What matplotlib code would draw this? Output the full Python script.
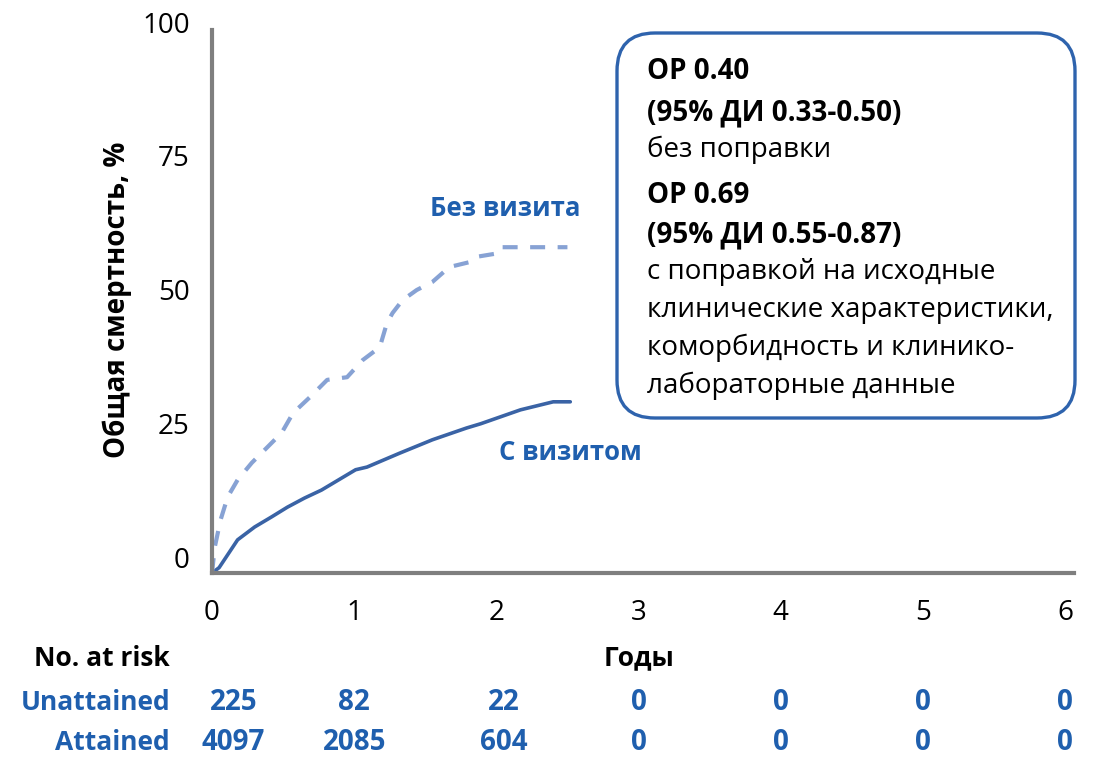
import matplotlib
matplotlib.use("Agg")
import matplotlib.pyplot as plt
from matplotlib.patches import FancyBboxPatch
from matplotlib.transforms import ScaledTranslation, blended_transform_factory

plt.rcParams["font.family"] = ["Open Sans", "DejaVu Sans"]

# Cumulative mortality curves (years, %)
attained_t = [0, 0.05, 0.09, 0.18, 0.30, 0.42, 0.53, 0.65, 0.77, 0.89, 1.01, 1.09,
              1.32, 1.55, 1.79, 1.89, 2.03, 2.17, 2.40, 2.52]
attained_y = [0, 1.0, 2.6, 6.2, 8.6, 10.5, 12.3, 14.0, 15.5, 17.4, 19.3, 19.8,
              22.4, 24.9, 27.1, 27.9, 29.2, 30.5, 32.0, 32.0]

unattained_t = [0, 0.02, 0.06, 0.11, 0.18, 0.28, 0.37, 0.49, 0.57, 0.69, 0.81,
                0.95, 1.06, 1.18, 1.23, 1.27, 1.34, 1.44, 1.55, 1.67, 1.81,
                1.86, 2.02, 2.04, 2.50]
unattained_y = [0, 4.9, 9.9, 14.2, 17.4, 20.6, 23.0, 26.2, 29.9, 32.9, 36.1,
                36.6, 39.8, 42.2, 46.7, 48.6, 51.0, 52.9, 54.4, 57.2, 58.1,
                59.1, 59.8, 60.9, 60.9]

x_ticks = [0, 1, 2, 3, 4, 5, 6]
y_ticks = [0, 25, 50, 75, 100]

# Numbers at risk
risk_rows = ["Unattained", "Attained"]
risk_unattained = [225, 82, 22, 0, 0, 0, 0]
risk_attained = [4097, 2085, 604, 0, 0, 0, 0]

box_lines = [
    ("ОР 0.40", "bold"),
    ("(95% ДИ 0.33-0.50)", "bold"),
    ("без поправки", "normal"),
    ("ОР 0.69", "bold"),
    ("(95% ДИ 0.55-0.87)", "bold"),
    ("с поправкой на исходные", "normal"),
    ("клинические характеристики,", "normal"),
    ("коморбидность и клинико-", "normal"),
    ("лабораторные данные", "normal"),
]

TEXT_BLUE = "#1f5fae"
SOLID = "#3a63a5"
DASHED = "#87a2d4"
AXIS = "#7f7f7f"
W, H = 1097, 760

fig = plt.figure(figsize=(W / 100, H / 100), dpi=100)
ax = fig.add_axes([212 / W, 1 - 573 / H, 862 / W, 543 / H])

ax.plot(attained_t, attained_y, color=SOLID, lw=2.6, solid_capstyle="round")
ax.plot(unattained_t, unattained_y, color=DASHED, lw=3.0, dashes=(3.6, 3.0))

ax.set_xlim(0, 6.063)
ax.set_ylim(0, 101.5)
ax.set_xticks(x_ticks)
ax.set_yticks(y_ticks)
ax.tick_params(length=0, labelsize=20)
ax.tick_params(axis="x", pad=19)
ax.tick_params(axis="y", pad=16)
for side in ("top", "right"):
    ax.spines[side].set_visible(False)
for side in ("left", "bottom"):
    ax.spines[side].set_color(AXIS)
    ax.spines[side].set_linewidth(3)
shift = ScaledTranslation(0, 16 / 100, fig.dpi_scale_trans)
for lab in ax.get_yticklabels():
    lab.set_transform(lab.get_transform() + shift)

ax.text(2.06, 68.2, "Без визита", color=TEXT_BLUE, fontsize=18.5,
        fontweight="bold", ha="center", va="center")
ax.text(2.52, 22.6, "С визитом", color=TEXT_BLUE, fontsize=18.5,
        fontweight="bold", ha="center", va="center")

# Overlay in pixel coordinates for the annotation box and the table
ov = fig.add_axes([0, 0, 1, 1])
ov.set_xlim(0, W)
ov.set_ylim(H, 0)
ov.axis("off")
ov.patch.set_visible(False)

ov.text(117, 300, "Общая смертность, %", rotation=90, fontsize=20,
        fontweight="bold", ha="center", va="center")

box = FancyBboxPatch((617, 33), 458, 385,
                     boxstyle="round,pad=0,rounding_size=38",
                     fc="white", ec="#2e63ad", lw=2.4)
ov.add_patch(box)
baselines = [79, 120, 157, 203, 242, 279, 317, 355, 393]
for (txt, wt), yb in zip(box_lines, baselines):
    ov.text(647, yb, txt, fontsize=20, fontweight=wt, ha="left",
            va="baseline", color="black")

ov.text(170, 658, "No. at risk", fontsize=19, fontweight="bold",
        ha="right", va="center")
bt = blended_transform_factory(ax.transData, ov.transData)
ov.text(3, 658, "Годы", fontsize=19, fontweight="bold", ha="center",
        va="center", transform=bt)

row_y = [703, 743]
for name, vals, yy in zip(risk_rows, [risk_unattained, risk_attained], row_y):
    ov.text(170, yy, name, fontsize=19, fontweight="bold", color=TEXT_BLUE,
            ha="right", va="center")
    for xv, v in zip(x_ticks, vals):
        dx = 0.15 if xv == 0 else 0.05 if xv == 2 else 0.0
        ov.text(xv + dx, yy, str(v), fontsize=20, fontweight="bold",
                color=TEXT_BLUE, ha="center", va="center", transform=bt)

fig.savefig("out.png", dpi=100)
